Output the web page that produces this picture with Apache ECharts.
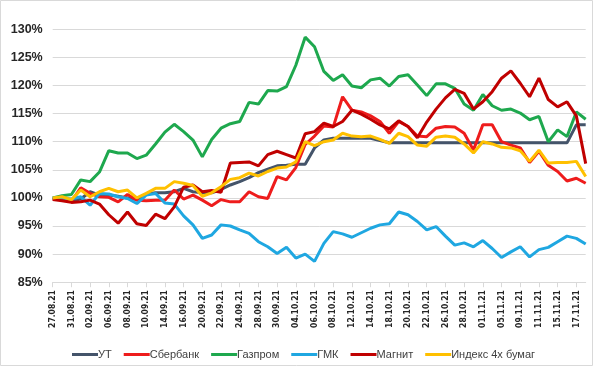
<!DOCTYPE html>
<html>
<head>
<meta charset="utf-8">
<script src="https://cdn.jsdelivr.net/npm/echarts@6/dist/echarts.min.js"></script>
<style>
  html, body { margin: 0; padding: 0; background: #fff; }
  #chart { width: 600px; height: 368px; }
</style>
</head>
<body>
<div id="chart"></div>
<script>
const dates = ['27.08.21','30.08.21','31.08.21','01.09.21','02.09.21','03.09.21','06.09.21','07.09.21','08.09.21','09.09.21',
  '10.09.21','13.09.21','14.09.21','15.09.21','16.09.21','17.09.21','20.09.21','21.09.21','22.09.21','23.09.21',
  '24.09.21','27.09.21','28.09.21','29.09.21','30.09.21','01.10.21','04.10.21','05.10.21','06.10.21','07.10.21',
  '08.10.21','11.10.21','12.10.21','13.10.21','14.10.21','15.10.21','18.10.21','19.10.21','20.10.21','21.10.21',
  '22.10.21','25.10.21','26.10.21','27.10.21','28.10.21','29.10.21','01.11.21','02.11.21','05.11.21','08.11.21',
  '09.11.21','10.11.21','11.11.21','12.11.21','15.11.21','16.11.21','17.11.21','18.11.21']

const ut = [100, 99.8, 99.5, 99.8, 101.1, 100.5, 100.5, 100.3, 100.0, 99.7,
  100.7, 100.9, 100.9, 101.1, 101.7, 101.1, 100.9, 100.9, 101.5, 102.3,
  102.9, 103.6, 104.5, 105.1, 105.7, 105.8, 106.0, 106.0, 108.9, 110.3,
  110.6, 110.6, 110.6, 110.6, 110.6, 110.2, 109.8, 109.8, 109.8, 109.8,
  109.8, 109.8, 109.8, 109.8, 109.8, 109.8, 109.8, 109.8, 109.8, 109.8,
  109.8, 109.8, 109.8, 109.8, 109.8, 109.8, 113.0, 113.0]

const sber = [99.8, 99.8, 99.4, 101.8, 100.8, 100.2, 100.1, 99.3, 100.6, 99.6,
  99.5, 99.6, 99.6, 101.4, 99.8, 100.5, 99.6, 98.6, 99.7, 99.3,
  99.3, 101.1, 100.2, 99.9, 103.8, 103.2, 105.4, 109.5, 111.0, 112.8,
  112.6, 118.0, 115.6, 115.3, 114.6, 113.6, 111.5, 113.6, 112.7, 111.0,
  110.9, 112.4, 112.7, 112.6, 111.5, 108.5, 113.0, 113.0, 110.0, 109.4,
  108.9, 106.3, 108.3, 105.8, 104.7, 103.0, 103.5, 102.6]

const gazprom = [100, 100.4, 100.6, 103.2, 102.9, 104.6, 108.4, 108.0, 108.0, 107.0,
  107.6, 109.6, 111.7, 113.1, 111.8, 110.3, 107.3, 110.4, 112.4, 113.2,
  113.6, 117.0, 116.7, 119.1, 119.0, 119.8, 123.6, 128.6, 126.9, 122.5,
  120.9, 121.9, 119.9, 119.6, 121.0, 121.3, 119.9, 121.6, 121.9, 120.1,
  118.2, 120.3, 120.3, 119.5, 116.7, 115.6, 118.4, 116.4, 115.6, 115.8,
  115.1, 113.9, 114.5, 110.0, 112.1, 110.9, 115.3, 114.0]

const gmk = [100, 100.0, 99.8, 100.2, 98.7, 100.8, 100.7, 100.2, 99.9, 99.0,
  100.5, 100.8, 99.1, 98.9, 96.8, 95.2, 92.8, 93.4, 95.2, 95.0,
  94.3, 93.7, 92.2, 91.3, 90.1, 91.2, 89.3, 90.0, 88.7, 91.9,
  94.0, 93.6, 93.0, 93.8, 94.6, 95.2, 95.4, 97.5, 97.0, 95.8,
  94.3, 94.9, 93.2, 91.6, 92.0, 91.3, 92.4, 91.0, 89.4, 90.4,
  91.3, 89.5, 90.8, 91.2, 92.2, 93.2, 92.8, 91.8]

const magnit = [99.7, 99.5, 99.2, 99.3, 99.6, 98.9, 97.0, 95.5, 97.5, 95.4,
  95.1, 97.1, 96.3, 98.4, 101.9, 102.3, 101.1, 101.3, 101.0, 106.2,
  106.3, 106.4, 105.7, 107.7, 108.3, 107.7, 107.1, 111.4, 111.8, 113.3,
  112.7, 113.6, 115.6, 114.9, 114.0, 113.0, 112.3, 113.7, 112.7, 110.7,
  113.5, 115.8, 117.8, 119.3, 118.6, 115.8, 117.1, 118.9, 121.3, 122.6,
  120.4, 118.0, 121.3, 117.5, 116.2, 117.1, 114.6, 106.1]

const index4 = [100, 100.2, 99.7, 101.4, 100.2, 101.1, 101.7, 101.1, 101.4, 100.0,
  100.8, 101.7, 101.7, 102.9, 102.6, 102.2, 100.3, 100.9, 102.0, 103.3,
  103.6, 104.4, 103.9, 104.7, 105.3, 105.5, 106.4, 110.0, 109.3, 110.0,
  110.3, 111.5, 111.0, 110.9, 111.0, 110.4, 109.7, 111.5, 110.9, 109.4,
  109.2, 110.8, 111.0, 110.8, 109.6, 108.0, 110.0, 109.6, 109.0, 108.9,
  108.4, 106.5, 108.5, 106.2, 106.3, 106.3, 106.5, 103.8]

const seriesNames = ['УТ', 'Сбербанк', 'Газпром', 'ГМК', 'Магнит', 'Индекс 4х бумаг']
const seriesData = [ut, sber, gazprom, gmk, magnit, index4]
const colors = ['#44546a', '#ee1c1c', '#1ea84e', '#1fa7e1', '#c00000', '#ffc000']

const chart = echarts.init(document.getElementById('chart'))

const option = {
  animation: false,
  backgroundColor: '#fff',
  color: colors,
  graphic: [{
    type: 'rect',
    shape: { x: 0.5, y: 0.5, width: 592, height: 365 },
    style: { fill: 'none', stroke: '#d9d9d9', lineWidth: 1 },
    silent: true
  }],
  grid: { left: 52.7, right: 14.3, top: 29.3, bottom: 85.8 },
  legend: {
    top: 344,
    left: 67,
    icon: 'rect',
    itemWidth: 26,
    itemHeight: 3,
    itemGap: 12,
    textStyle: {
      fontFamily: 'Liberation Sans, Arial, sans-serif',
      fontSize: 11,
      color: '#404040',
      padding: [0, 0, 0, -5]
    },
    data: seriesNames
  },
  xAxis: {
    type: 'category',
    data: dates,
    boundaryGap: false,
    axisLine: { lineStyle: { color: '#d9d9d9' } },
    axisTick: { interval: 1, length: 5, lineStyle: { color: '#d9d9d9' } },
    axisLabel: {
      interval: 1,
      rotate: 90,
      margin: 8,
      fontFamily: "'Liberation Sans Narrow', 'Arial Narrow', 'DejaVu Sans Condensed', sans-serif",
      fontWeight: 'bold',
      fontSize: 8.5,
      color: '#262626'
    }
  },
  yAxis: {
    type: 'value',
    min: 85,
    max: 130,
    interval: 5,
    axisLine: { show: false },
    axisTick: { show: false },
    splitLine: { lineStyle: { color: '#d9d9d9' } },
    axisLabel: {
      formatter: '{value}%',
      margin: 10,
      fontFamily: 'Liberation Sans, Arial, sans-serif',
      fontWeight: 'bold',
      fontSize: 12.5,
      color: '#262626'
    }
  },
  series: seriesNames.map((name, i) => ({
    name: name,
    type: 'line',
    data: seriesData[i],
    symbol: 'none',
    lineStyle: { width: 3, color: colors[i] },
    itemStyle: { color: colors[i] }
  }))
}

chart.setOption(option)
</script>
</body>
</html>
